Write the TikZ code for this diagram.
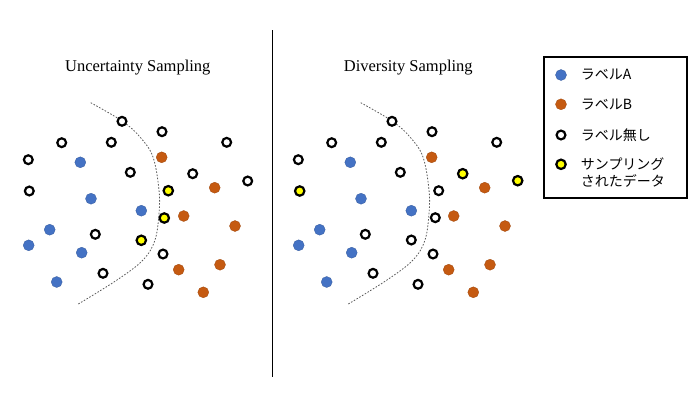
\documentclass[tikz,border=0pt]{standalone}
\usepackage{fontspec}
\setmainfont{Liberation Serif}
\newfontfamily\cjk{Noto Sans CJK JP}
\definecolor{ptblue}{HTML}{4472C4}
\definecolor{ptorange}{HTML}{C55A11}
\definecolor{ptyellow}{HTML}{FFFF00}
\tikzset{
  unl/.style={circle,draw=black,line width=2.2pt,minimum size=8.8pt,inner sep=0pt,fill=white},
  lblA/.style={circle,fill=ptblue,draw=ptblue!80!black,line width=0.3pt,minimum size=11pt,inner sep=0pt},
  lblB/.style={circle,fill=ptorange,draw=ptorange!80!black,line width=0.3pt,minimum size=11pt,inner sep=0pt},
  smp/.style={circle,draw=black,line width=2.2pt,minimum size=9.4pt,inner sep=0pt,fill=ptyellow},
  boundary/.style={draw=black!65,line width=0.8pt,dash pattern=on 1.6pt off 1.6pt},
  ttl/.style={font=\fontsize{16.5}{19}\selectfont,inner sep=0pt},
  legtxt/.style={font=\cjk\fontsize{14}{16.7}\selectfont,anchor=west,inner sep=0pt,align=left}
}
\begin{document}
\begin{tikzpicture}[x=1pt,y=-1pt]
\useasboundingbox (0,0) rectangle (700,394);
% divider
\coordinate (dtop) at (272.3,30);
\coordinate (dbot) at (272.3,377);
\draw[line width=1.3pt] (dtop) -- (dbot);
% titles
\node[ttl] (t1) at (137.8,68) {Uncertainty Sampling};
\node[ttl] (t2) at (408.3,68) {Diversity Sampling};
% panels
\foreach \sx/\pn in {0/L,270/R}{
  \begin{scope}[xshift=\sx pt]
  \draw[boundary] plot[smooth,tension=0.6] coordinates {(90.7,102.7) (122,121) (140,137) (153,157) (159,190) (159,213) (155,240) (143,260) (117,280) (78.3,304)};
  \foreach \x/\y [count=\i] in {80.3/162.3,91/198.7,141.3/210.7,49.7/229.7,28.7/245.3,81.7/252.7,56.7/282}
    \node[lblA] (a\pn\i) at (\x,\y) {};
  \foreach \x/\y [count=\i] in {161.7/157.3,214.7/187.7,183.7/216,235/226,178.7/269.7,220/264.7,203.3/292.3}
    \node[lblB] (b\pn\i) at (\x,\y) {};
  \foreach \x/\y [count=\i] in {122/121.3,162/131.7,61.7/142.7,111.3/142.3,226.7/142.3,28.3/159.7,130.3/172.3,95.3/234.3,163/254,103/273.3,148/284.3}
    \node[unl] (u\pn\i) at (\x,\y) {};
  \end{scope}
}
% left-only unlabeled / sampled
\foreach \x/\y [count=\i] in {192.7/173.7,247.7/181,29.3/191}
  \node[unl] (uLx\i) at (\x,\y) {};
\foreach \x/\y [count=\i] in {168.3/190.7,164.3/218,141.3/240.3}
  \node[smp] (sL\i) at (\x,\y) {};
% right-only
\foreach \x/\y [count=\i] in {438.7/190.7,435.3/217.7,411.3/240}
  \node[unl] (uRx\i) at (\x,\y) {};
\foreach \x/\y [count=\i] in {299.7/191,462.7/173.7,517.7/180.7}
  \node[smp] (sR\i) at (\x,\y) {};
% legend
\node[draw=black,line width=2pt,minimum width=142.4pt,minimum height=140.7pt,inner sep=0pt,anchor=north west] (legend) at (543.3,56) {};
\node[lblA] (k1) at (561,75) {};
\node[lblB] (k2) at (561,104.3) {};
\node[unl] (k3) at (561,135) {};
\node[smp] (k4) at (561,164.3) {};
\node[legtxt] (l1) at (580.7,75) {ラベルA};
\node[legtxt] (l2) at (580.7,104.3) {ラベルB};
\node[legtxt] (l3) at (580.7,135) {ラベル無し};
\node[legtxt] (l4) at (580.7,172.6) {サンプリング\\されたデータ};
\end{tikzpicture}
\end{document}
